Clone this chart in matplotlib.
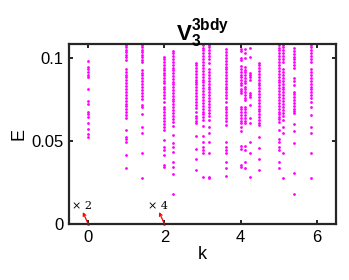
import numpy as np
import matplotlib
matplotlib.use("Agg")
import matplotlib.pyplot as plt

plt.rcParams['font.family'] = ['Liberation Sans', 'DejaVu Sans']
plt.rcParams['mathtext.fontset'] = 'custom'
plt.rcParams['mathtext.rm'] = 'Liberation Sans'
plt.rcParams['mathtext.bf'] = 'Liberation Sans:bold'

# k = sqrt(n) for the lattice momenta that appear
n_vals = [0, 1, 2, 4, 5, 8, 9, 10, 13, 16, 17, 18, 20, 25, 26, 29, 34]

E_n0 = [0, 0.0526, 0.0540, 0.0570, 0.0610, 0.0643, 0.0663, 0.0677, 0.0725, 0.0741,
        0.0811, 0.0884, 0.0899, 0.0916, 0.0932, 0.0948, 0.0982]
E_n1 = [0.0990, 0.1005, 0.1020, 0.1035, 0.1050, 0.1065, 0.1080,
        0.0637, 0.0655, 0.0672, 0.0690, 0.0708, 0.0725, 0.0743, 0.0760, 0.0778, 0.0795,
        0.0813, 0.0830, 0.0848, 0.0865, 0.0883, 0.0900, 0.0916, 0.0932,
        0.0566, 0.0526, 0.0510, 0.0496, 0.0416, 0.0339]
E_n2 = [0.1080, 0.1065, 0.1050, 0.1035, 0.1020, 0.1005, 0.0990, 0.0975, 0.0928, 0.0912,
        0.0895, 0.0878, 0.0860, 0.0842, 0.0825, 0.0808, 0.0790, 0.0772, 0.0755, 0.0717,
        0.0707, 0.0663, 0.0582, 0.0546, 0.0426, 0.0275]
E_n4 = [0.1008, 0.0992, 0.0975, 0.0958, 0.0942, 0.0925, 0.0908, 0.0898, 0.0880, 0.0863,
        0.0847, 0.0827, 0.0810, 0.0792, 0.0775, 0.0757, 0.0737, 0.0707, 0.0690, 0.0672,
        0.0655, 0.0637, 0.0620, 0.0602, 0.0585, 0.0566, 0.0506, 0.0466, 0.0446, 0.0416,
        0.0355, 0.0341, 0]
E_n5 = [0.1044, 0.1027, 0.1010, 0.0993, 0.0976, 0.0959, 0.0942, 0.0925, 0.0908, 0.0891,
        0.0874, 0.0857, 0.0840, 0.0823, 0.0806, 0.0789, 0.0772, 0.0755, 0.0738, 0.0721,
        0.0704, 0.0687, 0.0670, 0.0650, 0.0633, 0.0616,
        0.0590, 0.0536, 0.0486, 0.0462, 0.0436, 0.0375, 0.0345, 0.0301, 0.0181]
E_n8 = [0.0972, 0.0955, 0.0938, 0.0920, 0.0903, 0.0885, 0.0867, 0.0857, 0.0840, 0.0822,
        0.0805, 0.0787, 0.0770, 0.0752, 0.0735, 0.0717, 0.0700, 0.0677, 0.0651, 0.0636,
        0.0621, 0.0607, 0.0530, 0.0454, 0.0390, 0.0325]
E_n9 = [0.1080, 0.1062, 0.1045, 0.1027, 0.1010, 0.0992, 0.0975, 0.0957, 0.0940, 0.0922,
        0.0905, 0.0887, 0.0870, 0.0852, 0.0835, 0.0817, 0.0800, 0.0782, 0.0765, 0.0747,
        0.0730, 0.0712, 0.0695, 0.0677, 0.0660, 0.0643, 0.0627,
        0.0590, 0.0530, 0.0496, 0.0466, 0.0446, 0.0426, 0.0281]
E_n10 = [0.1080, 0.1063, 0.1045, 0.1028, 0.1010, 0.0992, 0.0972,
         0.0932, 0.0915, 0.0897, 0.0880, 0.0862, 0.0845, 0.0827, 0.0810, 0.0792, 0.0775,
         0.0757, 0.0740, 0.0722, 0.0705, 0.0687, 0.0670, 0.0652, 0.0627,
         0.0582, 0.0546, 0.0496, 0.0426, 0.0281, 0.0275]
E_n13 = [0.1052, 0.1035, 0.1018, 0.1000, 0.0983, 0.0966, 0.0948, 0.0931, 0.0914, 0.0896,
         0.0879, 0.0862, 0.0844, 0.0827, 0.0810, 0.0792, 0.0775, 0.0757, 0.0737,
         0.0707, 0.0690, 0.0672, 0.0655, 0.0637, 0.0620, 0.0596,
         0.0496, 0.0462, 0.0446, 0.0430, 0.0375, 0.0335, 0.0289]
E_n16 = [0.1052, 0.1040, 0.1000, 0.0985, 0.0950, 0.0935, 0.0918, 0.0900, 0.0885, 0.0868,
         0.0850, 0.0835, 0.0815, 0.0800, 0.0787, 0.0707, 0.0690, 0.0672, 0.0655, 0.0637,
         0.0620, 0.0610, 0.0582, 0.0562, 0.0470, 0.0450, 0.0355, 0.0345]
E_n17 = [0.1052, 0.1028, 0.0998, 0.0948, 0.0930, 0.0913, 0.0896, 0.0880, 0.0863, 0.0847,
         0.0827, 0.0810, 0.0793, 0.0777, 0.0760, 0.0747, 0.0707, 0.0690, 0.0672, 0.0655,
         0.0637, 0.0620, 0.0610, 0.0470, 0.0446, 0.0375, 0.0335]
E_n18 = [0.1058, 0.1008, 0.0908, 0.0898, 0.0888, 0.0867, 0.0787, 0.0777, 0.0767, 0.0717,
         0.0637, 0.0607, 0.0496, 0.0426, 0.0285]
E_n20 = [0.0972, 0.0955, 0.0938, 0.0920, 0.0903, 0.0886, 0.0868, 0.0851, 0.0834, 0.0816,
         0.0799, 0.0782, 0.0764, 0.0747, 0.0730, 0.0712, 0.0695, 0.0678, 0.0660, 0.0643,
         0.0626, 0.0610, 0.0596, 0.0526, 0.0456, 0.0390, 0.0325]
E_n25 = [0.1080, 0.1062, 0.1045, 0.1027, 0.1010, 0.0992, 0.0975, 0.0957, 0.0940, 0.0922,
         0.0905, 0.0887, 0.0870, 0.0852, 0.0835, 0.0817, 0.0800, 0.0782, 0.0765, 0.0747,
         0.0730, 0.0712, 0.0695, 0.0677, 0.0660, 0.0643, 0.0630, 0.0616,
         0.0566, 0.0510, 0.0496, 0.0462, 0.0446, 0.0375, 0.0335]
E_n26 = [0.1080, 0.1063, 0.1045, 0.1028, 0.1010, 0.0993, 0.0978,
         0.0932, 0.0915, 0.0897, 0.0880, 0.0862, 0.0845, 0.0827, 0.0810, 0.0792, 0.0775,
         0.0757, 0.0740, 0.0722, 0.0705, 0.0687, 0.0670, 0.0652, 0.0627,
         0.0582, 0.0546, 0.0426, 0.0275]
E_n29 = [0.1058, 0.1042, 0.1025, 0.1008, 0.0991, 0.0975, 0.0958, 0.0938, 0.0878, 0.0858,
         0.0837, 0.0797, 0.0780, 0.0763, 0.0746, 0.0729, 0.0712, 0.0695, 0.0680, 0.0667,
         0.0602, 0.0562, 0.0486, 0.0305, 0.0181]
E_n34 = [0.1080, 0.1063, 0.1045, 0.1028, 0.1010, 0.0993, 0.0978,
         0.0932, 0.0915, 0.0897, 0.0880, 0.0862, 0.0845, 0.0827, 0.0810, 0.0792, 0.0775,
         0.0757, 0.0737, 0.0707, 0.0657, 0.0582, 0.0546, 0.0426, 0.0275]

levels = [E_n0, E_n1, E_n2, E_n4, E_n5, E_n8, E_n9, E_n10, E_n13, E_n16, E_n17,
          E_n18, E_n20, E_n25, E_n26, E_n29, E_n34]

# degeneracy labels for the zero modes
deg_k = [0, 2]
deg_labels = ['\u00d7 2', '\u00d7 4']

fig = plt.figure(figsize=(3.49, 2.8), dpi=100)
ax = fig.add_axes([0.198, 0.2, 0.765, 0.643])

for n, E in zip(n_vals, levels):
    k = np.sqrt(n)
    ax.plot(np.full(len(E), k), E, linestyle='none', marker='o', markersize=2.0,
            markeredgewidth=0, color='#ff00ff', clip_on=False)

for k, lab in zip(deg_k, deg_labels):
    ax.annotate('', xy=(k - 0.14, 0.0072), xytext=(k, 0.0),
                arrowprops=dict(arrowstyle='->', color='red', lw=0.9,
                                shrinkA=0, shrinkB=0, mutation_scale=5))
    ax.text(k - 0.17, 0.0110, lab, ha='center', va='center', fontsize=8,
            family='DejaVu Serif')

ax.set_xlim(-0.5, 6.5)
ax.set_ylim(0, 0.1084)
ax.set_xticks([0, 2, 4, 6])
ax.set_yticks([0, 0.05, 0.1])
ax.set_yticklabels(['0', '0.05', '0.1'])
ax.tick_params(direction='in', top=True, right=True, length=3, width=1.2,
               labelsize=12, pad=4)
for s in ax.spines.values():
    s.set_linewidth(1.6)
    s.set_color('#262626')

ax.set_xlabel('k', fontsize=13, labelpad=1)
ax.set_ylabel('E', fontsize=13, labelpad=3)
ax.set_title(r'$\mathbf{V_3^{3bdy}}$', fontsize=16, pad=2)

fig.savefig('out.png', dpi=100)
